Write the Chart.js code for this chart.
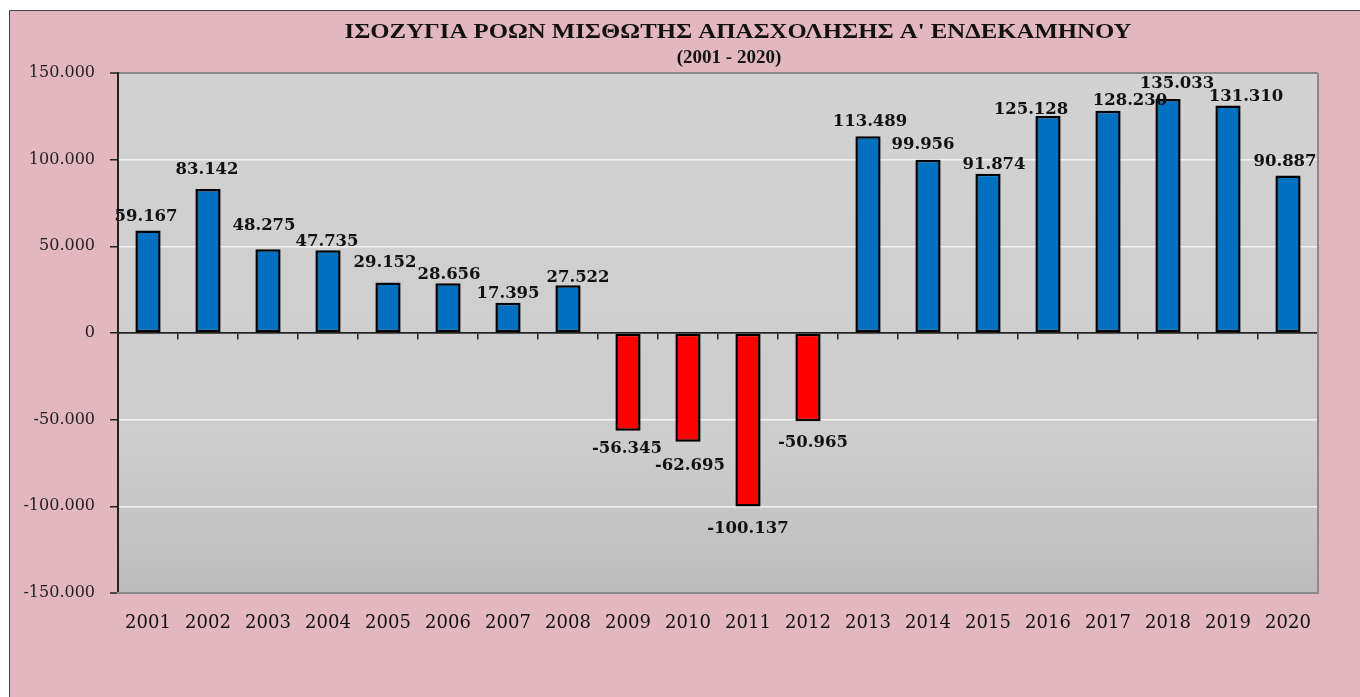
<!DOCTYPE html>
<html>
<head>
<meta charset="utf-8">
<script src="https://cdn.jsdelivr.net/npm/chart.js@4.4.1/dist/chart.umd.min.js"></script>
<style>
  html, body { margin: 0; padding: 0; background: #fff; }
  #frame {
    position: absolute; left: 9px; top: 10px; width: 1360px; height: 700px;
    background: #e3b7bf; border: 1px solid #444;
  }
  #wrap { position: absolute; left: 0; top: 0; width: 1360px; height: 697px; }
</style>
</head>
<body>
<div id="frame"></div>
<div id="wrap"><canvas id="chart" width="1360" height="697"></canvas></div>
<script>
// data
const years = ['2001','2002','2003','2004','2005','2006','2007','2008','2009','2010',
               '2011','2012','2013','2014','2015','2016','2017','2018','2019','2020'];
const balance = [59167, 83142, 48275, 47735, 29152, 28656, 17395, 27522, -56345, -62695,
                 -100137, -50965, 113489, 99956, 91874, 125128, 128230, 135033, 131310, 90887];
const titleLines = ["ΙΣΟΖΥΓΙΑ ΡΟΩΝ ΜΙΣΘΩΤΗΣ ΑΠΑΣΧΟΛΗΣΗΣ Α' ΕΝΔΕΚΑΜΗΝΟΥ", '(2001 - 2020)'];

// label nudges (label centre minus bar end), the original labels were dragged by hand
const labelShift = [[-2,-15],[-1,-21],[-4,-25],[-1,-10],[-3,-21],[1,-10],[0,-11],[10,-9],[-1,16],[2,22],
                    [0,20],[5,20],[2,-16],[-5,-17],[6,-11],[-17,-8],[22,-12],[9,-17],[18,-10],[-3,-15]];

const fmt = v => (v < 0 ? '-' : '') + String(Math.abs(v)).replace(/\B(?=(\d{3})+(?!\d))/g, '.');

const plotBg = {
    id: 'plotBg',
    beforeDraw(chart) {
        const { ctx, chartArea: a } = chart;
        const g = ctx.createLinearGradient(0, a.top, 0, a.bottom);
        g.addColorStop(0, '#d2d2d2');
        g.addColorStop(0.72, '#cdcdcd');
        g.addColorStop(1, '#bcbcbc');
        ctx.save();
        ctx.fillStyle = g;
        ctx.fillRect(a.left, a.top, a.right - a.left, a.bottom - a.top);
        ctx.restore();
    },
    afterDraw(chart) {
        const { ctx, chartArea: a } = chart;
        ctx.save();
        ctx.strokeStyle = '#8a8a8a';
        ctx.lineWidth = 2;
        ctx.beginPath();
        ctx.moveTo(a.right, a.top);
        ctx.lineTo(a.right, a.bottom);
        ctx.stroke();
        ctx.fillStyle = '#111';
        ctx.textAlign = 'center';
        ctx.textBaseline = 'alphabetic';
        // the original title is stretched sideways
        ctx.font = 'bold 20px "Liberation Serif"';
        ctx.save();
        ctx.translate(738, 38);
        ctx.scale(787 / ctx.measureText(titleLines[0]).width, 1);
        ctx.fillText(titleLines[0], 0, 0);
        ctx.restore();
        ctx.font = 'bold 19px "Liberation Serif"';
        ctx.fillText(titleLines[1], 729, 63);
        ctx.restore();
    }
};

const barLabels = {
    id: 'barLabels',
    afterDatasetsDraw(chart) {
        const { ctx } = chart;
        const meta = chart.getDatasetMeta(0);
        ctx.save();
        ctx.font = 'bold 16.5px "DejaVu Serif"';
        ctx.fillStyle = '#111';
        ctx.textAlign = 'center';
        ctx.textBaseline = 'alphabetic';
        meta.data.forEach((bar, i) => {
            const [dx, dy] = labelShift[i];
            ctx.fillText(fmt(balance[i]), bar.x + dx, bar.y + dy + 6);
        });
        ctx.restore();
    }
};

new Chart(document.getElementById('chart'), {
    type: 'bar',
    data: {
        labels: years,
        datasets: [{
            data: balance,
            backgroundColor: balance.map(v => v >= 0 ? '#0070c0' : '#ff0000'),
            borderColor: '#000',
            borderWidth: 2.5,
            borderSkipped: false,
            barPercentage: 0.42,
            categoryPercentage: 1
        }]
    },
    options: {
        responsive: false,
        animation: false,
        layout: { padding: { left: 0, top: 73, right: 42, bottom: 0 } },
        plugins: { legend: { display: false }, tooltip: { enabled: false } },
        scales: {
            y: {
                min: -150000, max: 150000,
                afterFit: s => { s.width = 118; },
                ticks: {
                    stepSize: 50000,
                    padding: 15,
                    color: '#222',
                    font: { family: 'DejaVu Serif', size: 16 },
                    callback: v => fmt(v)
                },
                grid: {
                    color: c => {
                        const v = c.tick && c.tick.value;
                        if (v === 0) return '#333';
                        if (v === 150000 || v === -150000) return '#8a8a8a';
                        return '#f2f2f2';
                    },
                    lineWidth: c => (c.tick && Math.abs(c.tick.value) === 150000) ? 2 : 1.5,
                    tickColor: '#222',
                    tickLength: 8,
                    tickWidth: 1.5
                },
                border: { color: '#222', width: 2 }
            },
            x: {
                afterFit: s => { s.height = 104; },
                offset: true,
                grid: { display: false },
                border: { color: '#8a8a8a', width: 2 },
                ticks: {
                    padding: 12,
                    color: '#111',
                    font: { family: 'DejaVu Serif', size: 18 },
                    maxRotation: 0
                }
            },
            x2: {
                type: 'category',
                position: { y: 0 },
                offset: true,
                ticks: { display: false },
                grid: {
                    offset: true,
                    drawOnChartArea: false,
                    drawTicks: true,
                    tickLength: 6,
                    color: '#222',
                    lineWidth: 1.5
                },
                border: { color: '#222', width: 1.5 }
            }
        }
    },
    plugins: [plotBg, barLabels]
});
</script>
</body>
</html>
